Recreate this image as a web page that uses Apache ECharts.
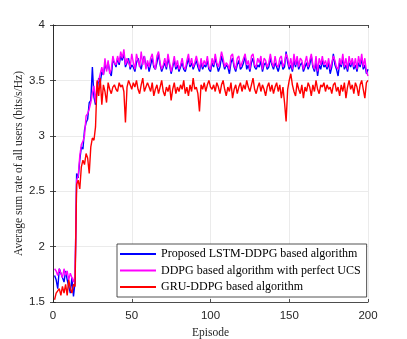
<!DOCTYPE html>
<html>
<head>
<meta charset="utf-8">
<script src="https://cdn.jsdelivr.net/npm/echarts@6/dist/echarts.min.js"></script>
<style>
html, body { margin: 0; padding: 0; background: #fff; }
#chart { width: 407px; height: 339px; }
</style>
</head>
<body>
<div id="chart"></div>
<script>
// series names (legend order)
var names = ['Proposed LSTM-DDPG based algorithm', 'DDPG based algorithm with perfect UCS', 'GRU-DDPG based algorithm'];
var colors = ['#0000ff', '#ff00ff', '#ff0000'];
var xTicks = [0, 50, 100, 150, 200];
var yTicks = [1.5, 2, 2.5, 3, 3.5, 4];

// Proposed LSTM-DDPG, episodes 1..200
var lstmData = [
	1.74,1.70,1.62,1.80,1.76,1.72,1.68,1.78,1.70,1.64,1.58,1.72,1.55,1.68,
	2.66,2.62,2.78,2.90,2.88,3.05,3.12,3.15,3.30,3.32,3.62,3.35,3.28,3.40,3.52,3.48,
	3.58,3.55,3.64,3.60,3.66,3.58,3.54,3.68,3.66,3.62,
	3.70,3.64,3.72,3.68,3.75,3.62,3.66,3.70,3.60,3.64,
	3.62,3.58,3.66,3.70,3.64,3.60,3.68,3.72,3.62,3.66,
	3.58,3.64,3.70,3.62,3.60,3.66,3.74,3.64,3.58,3.62,
	3.66,3.60,3.70,3.64,3.56,3.62,3.68,3.60,3.64,3.58,
	3.62,3.66,3.60,3.58,3.64,3.70,3.62,3.66,3.60,3.64,
	3.68,3.62,3.58,3.66,3.60,3.64,3.62,3.68,3.60,3.58,
	3.66,3.62,3.70,3.64,3.58,3.62,3.72,3.66,3.60,3.64,
	3.62,3.56,3.66,3.70,3.62,3.58,3.64,3.68,3.60,3.62,
	3.66,3.72,3.60,3.64,3.58,3.66,3.70,3.62,3.60,3.64,
	3.62,3.68,3.58,3.64,3.66,3.60,3.62,3.70,3.64,3.60,
	3.66,3.62,3.58,3.64,3.68,3.60,3.62,3.76,3.66,3.60,
	3.64,3.58,3.68,3.62,3.70,3.60,3.64,3.66,3.58,3.62,
	3.66,3.60,3.64,3.72,3.62,3.58,3.66,3.54,3.64,3.60,
	3.68,3.62,3.64,3.60,3.66,3.56,3.62,3.74,3.64,3.60,
	3.54,3.66,3.62,3.70,3.60,3.64,3.58,3.66,3.62,3.68,
	3.60,3.64,3.58,3.66,3.62,3.70,3.60,3.64,3.56,3.60
];

// DDPG with perfect UCS
var ddpgData = [
	1.80,1.78,1.74,1.80,1.76,1.72,1.80,1.74,1.78,1.70,1.76,1.72,1.68,1.74,
	2.60,2.64,2.82,2.92,2.95,3.00,3.18,3.20,3.24,3.30,3.38,3.45,3.30,3.48,3.50,3.56,
	3.62,3.55,3.70,3.58,3.68,3.56,3.60,3.72,3.66,3.64,
	3.72,3.66,3.76,3.70,3.78,3.64,3.70,3.66,3.62,3.74,
	3.66,3.60,3.74,3.68,3.62,3.76,3.64,3.72,3.60,3.68,
	3.62,3.70,3.74,3.64,3.60,3.72,3.76,3.66,3.60,3.64,
	3.70,3.62,3.74,3.66,3.58,3.64,3.72,3.62,3.68,3.60,
	3.64,3.70,3.62,3.60,3.68,3.74,3.64,3.70,3.62,3.66,
	3.72,3.66,3.60,3.70,3.62,3.68,3.64,3.72,3.62,3.60,
	3.70,3.64,3.74,3.66,3.62,3.68,3.76,3.70,3.62,3.66,
	3.64,3.60,3.72,3.74,3.64,3.60,3.70,3.72,3.62,3.66,
	3.70,3.74,3.64,3.68,3.60,3.72,3.74,3.64,3.62,3.70,
	3.66,3.72,3.60,3.70,3.68,3.62,3.66,3.74,3.66,3.62,
	3.72,3.64,3.62,3.70,3.72,3.62,3.66,3.74,3.70,3.62,
	3.70,3.60,3.74,3.64,3.72,3.62,3.70,3.68,3.60,3.66,
	3.72,3.62,3.68,3.74,3.64,3.60,3.72,3.58,3.70,3.64,
	3.72,3.64,3.68,3.62,3.70,3.60,3.66,3.72,3.68,3.62,
	3.60,3.70,3.64,3.74,3.62,3.70,3.60,3.72,3.64,3.70,
	3.62,3.70,3.60,3.72,3.64,3.74,3.62,3.70,3.58,3.54
];

// GRU-DDPG
var gruData = [
	1.52,1.58,1.60,1.62,1.56,1.64,1.58,1.66,1.56,1.70,1.62,1.58,1.66,1.64,
	2.56,2.60,2.52,2.72,2.78,2.74,2.84,2.80,2.66,2.90,2.98,2.96,3.08,3.50,3.36,3.52,
	3.28,3.46,3.40,3.30,3.48,3.42,3.38,3.44,3.46,3.42,
	3.40,3.48,3.44,3.46,3.40,3.12,3.44,3.50,3.46,3.42,
	3.48,3.44,3.50,3.42,3.38,3.46,3.52,3.40,3.44,3.48,
	3.44,3.40,3.48,3.36,3.42,3.46,3.38,3.44,3.50,3.40,
	3.36,3.44,3.40,3.46,3.32,3.42,3.48,3.38,3.44,3.40,
	3.46,3.42,3.50,3.38,3.44,3.36,3.46,3.40,3.52,3.42,
	3.44,3.38,3.22,3.46,3.42,3.48,3.40,3.46,3.50,3.44,
	3.42,3.46,3.40,3.48,3.44,3.38,3.46,3.50,3.42,3.36,
	3.44,3.40,3.48,3.34,3.42,3.46,3.38,3.44,3.48,3.40,
	3.46,3.42,3.50,3.44,3.40,3.46,3.52,3.42,3.38,3.44,
	3.48,3.40,3.46,3.42,3.36,3.44,3.48,3.40,3.46,3.38,
	3.44,3.48,3.40,3.46,3.34,3.44,3.30,3.13,3.42,3.50,
	3.56,3.46,3.40,3.36,3.48,3.42,3.38,3.46,3.34,3.44,
	3.40,3.48,3.44,3.36,3.46,3.40,3.50,3.42,3.38,3.46,
	3.44,3.48,3.40,3.46,3.42,3.44,3.38,3.46,3.48,3.40,
	3.44,3.36,3.46,3.40,3.48,3.34,3.44,3.50,3.42,3.46,
	3.38,3.48,3.44,3.36,3.46,3.50,3.42,3.34,3.48,3.50
];

function toPairs(arr) {
	var out = [];
	for (var i = 0; i < arr.length; i++) {
		out.push([i + 1, arr[i]]);
	}
	return out;
}

var chart = echarts.init(document.getElementById('chart'));
var tickFont = { fontFamily: 'Liberation Sans', fontSize: 11.5, color: '#262626' };
var axisLine = { show: true, lineStyle: { color: '#262626', width: 0.8 } };
var axisTick = { show: true, inside: true, length: 3, lineStyle: { color: '#262626', width: 0.8 } };
var gridLine = { show: true, lineStyle: { color: '#e6e6e6', width: 0.8 } };

var allData = [lstmData, ddpgData, gruData];
var series = [];
for (var k = 0; k < 3; k++) {
	series.push({
		name: names[k],
		type: 'line',
		data: toPairs(allData[k]),
		showSymbol: false,
		symbol: 'none',
		lineStyle: { color: colors[k], width: 1.4 },
		itemStyle: { color: colors[k] },
		animation: false,
		z: 3 + k
	});
}

var option = {
	animation: false,
	grid: { left: 53, right: 39, top: 25, bottom: 37, outerBoundsMode: 'none' },
	legend: {
		data: names,
		orient: 'vertical',
		left: 117,
		top: 244,
		width: 250,
		itemWidth: 36,
		itemHeight: 2,
		itemGap: 4.5,
		padding: [4, 6, 4, 3],
		icon: 'rect',
		backgroundColor: '#fff',
		borderColor: '#262626',
		borderWidth: 0.8,
		textStyle: { fontFamily: 'Liberation Serif', fontSize: 12, color: '#000' }
	},
	xAxis: [{
		type: 'value',
		min: 0,
		max: 200,
		interval: 50,
		name: 'Episode',
		nameLocation: 'middle',
		nameGap: 25,
		nameMoveOverlap: false,
		nameTextStyle: { fontFamily: 'Liberation Serif', fontSize: 11.5, color: '#262626' },
		axisLine: axisLine,
		axisTick: axisTick,
		axisLabel: tickFont,
		splitLine: gridLine
	}, {
		type: 'value',
		position: 'top',
		min: 0,
		max: 200,
		interval: 50,
		axisLine: axisLine,
		axisTick: axisTick,
		axisLabel: { show: false },
		splitLine: { show: false }
	}],
	yAxis: [{
		type: 'value',
		min: 1.5,
		max: 4,
		interval: 0.5,
		name: 'Average sum rate of all users (bits/s/Hz)',
		nameLocation: 'middle',
		nameGap: 28,
		nameMoveOverlap: false,
		nameTextStyle: { fontFamily: 'Liberation Serif', fontSize: 11.5, color: '#262626' },
		axisLine: axisLine,
		axisTick: axisTick,
		axisLabel: tickFont,
		splitLine: gridLine
	}, {
		type: 'value',
		position: 'right',
		min: 1.5,
		max: 4,
		interval: 0.5,
		axisLine: axisLine,
		axisTick: axisTick,
		axisLabel: { show: false },
		splitLine: { show: false }
	}],
	series: series
};
chart.setOption(option);
</script>
</body>
</html>
